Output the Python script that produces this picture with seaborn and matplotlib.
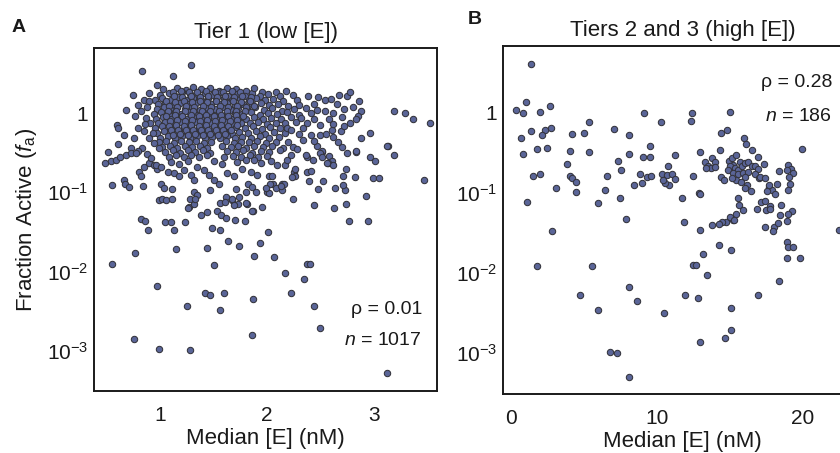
import numpy as np
import pandas as pd
import matplotlib
matplotlib.use("Agg")
import matplotlib.pyplot as plt
import matplotlib.ticker as mticker
import seaborn as sns

sns.set_style("white")
plt.rcParams['font.family'] = ['Liberation Sans', 'DejaVu Sans']
plt.rcParams['mathtext.fontset'] = 'custom'
plt.rcParams['mathtext.rm'] = 'Liberation Sans'
plt.rcParams['mathtext.it'] = 'Liberation Sans:italic'
plt.rcParams['text.color'] = '#1a1a1a'
plt.rcParams['axes.labelcolor'] = '#1a1a1a'

# values: (median [E] in nM, log10 of fraction active)
tier1_core = [
    (1.03, 0.30), (1.16, 0.32), (1.24, 0.29), (1.31, 0.33), (1.38, 0.30), (1.47, 0.31), (1.55, 0.28),
    (1.63, 0.32), (1.71, 0.30), (1.80, 0.28), (1.95, 0.27), (2.08, 0.26), (2.18, 0.28),
    (0.90, 0.25), (1.00, 0.23), (1.08, 0.25), (1.14, 0.22), (1.21, 0.26), (1.28, 0.24), (1.35, 0.21),
    (1.42, 0.25), (1.49, 0.23), (1.57, 0.26), (1.64, 0.22), (1.72, 0.24), (1.79, 0.21), (1.86, 0.25),
    (1.93, 0.22), (2.01, 0.24), (2.12, 0.21), (2.24, 0.23),
    (0.95, 0.17), (1.02, 0.19), (1.10, 0.16), (1.17, 0.20), (1.24, 0.17), (1.31, 0.19), (1.38, 0.16),
    (1.45, 0.19), (1.52, 0.17), (1.60, 0.19), (1.67, 0.16), (1.75, 0.18), (1.83, 0.17), (1.90, 0.19),
    (1.98, 0.16), (2.06, 0.18), (2.15, 0.15), (2.28, 0.17),
    (0.98, 0.11), (1.05, 0.13), (1.12, 0.10), (1.19, 0.13), (1.27, 0.11), (1.34, 0.13), (1.41, 0.10),
    (1.48, 0.12), (1.56, 0.11), (1.63, 0.13), (1.70, 0.10), (1.78, 0.12), (1.86, 0.11), (1.94, 0.13),
    (2.02, 0.10), (2.10, 0.12), (2.20, 0.09),
    (0.97, 0.05), (1.04, 0.07), (1.10, 0.04), (1.16, 0.07), (1.23, 0.05), (1.30, 0.07), (1.37, 0.04),
    (1.44, 0.06), (1.51, 0.05), (1.58, 0.07), (1.66, 0.04), (1.73, 0.06), (1.81, 0.05), (1.89, 0.07),
    (1.97, 0.04), (2.05, 0.06), (2.14, 0.03), (2.25, 0.05),
    (0.94, -0.01), (1.01, 0.01), (1.08, -0.02), (1.14, 0.01), (1.20, -0.01), (1.27, 0.01), (1.34, -0.02),
    (1.41, 0.00), (1.48, -0.01), (1.55, 0.01), (1.62, -0.02), (1.70, 0.00), (1.77, -0.01), (1.85, 0.01),
    (1.93, -0.02), (2.01, 0.00), (2.09, -0.01), (2.19, 0.01), (2.30, -0.02),
    (0.96, -0.07), (1.03, -0.05), (1.10, -0.08), (1.17, -0.05), (1.24, -0.07), (1.31, -0.05), (1.38, -0.08),
    (1.45, -0.06), (1.52, -0.07), (1.59, -0.05), (1.66, -0.08), (1.73, -0.06), (1.80, -0.07), (1.88, -0.05),
    (1.96, -0.08), (2.04, -0.06), (2.13, -0.07), (2.22, -0.05),
    (0.98, -0.13), (1.05, -0.11), (1.12, -0.14), (1.19, -0.11), (1.26, -0.13), (1.33, -0.11), (1.40, -0.14),
    (1.47, -0.12), (1.54, -0.13), (1.61, -0.11), (1.68, -0.14), (1.76, -0.12), (1.84, -0.13), (1.92, -0.11),
    (2.00, -0.14), (2.08, -0.12), (2.17, -0.13), (2.27, -0.11),
    (0.95, -0.19), (1.02, -0.17), (1.09, -0.20), (1.15, -0.17), (1.22, -0.19), (1.29, -0.17), (1.36, -0.20),
    (1.43, -0.18), (1.50, -0.19), (1.57, -0.17), (1.64, -0.20), (1.71, -0.18), (1.79, -0.19), (1.87, -0.17),
    (1.95, -0.20), (2.03, -0.18), (2.12, -0.19),
    (0.97, -0.25), (1.04, -0.23), (1.11, -0.26), (1.18, -0.23), (1.25, -0.25), (1.32, -0.23), (1.39, -0.26),
    (1.46, -0.24), (1.53, -0.25), (1.60, -0.23), (1.67, -0.26), (1.74, -0.24), (1.82, -0.25), (1.90, -0.23),
    (1.98, -0.26), (2.07, -0.24), (2.17, -0.25),
    (1.00, -0.31), (1.07, -0.29), (1.14, -0.32), (1.21, -0.29), (1.28, -0.31), (1.35, -0.29), (1.42, -0.32),
    (1.49, -0.30), (1.56, -0.31), (1.63, -0.29), (1.70, -0.32), (1.77, -0.30), (1.85, -0.31), (1.93, -0.29),
    (2.02, -0.32), (2.11, -0.30),
    (0.99, -0.37), (1.06, -0.35), (1.13, -0.38), (1.20, -0.35), (1.27, -0.37), (1.34, -0.35), (1.41, -0.38),
    (1.48, -0.36), (1.62, -0.35), (1.69, -0.38), (1.76, -0.36), (1.83, -0.37), (1.91, -0.35), (1.99, -0.38),
    (2.08, -0.36), (2.20, -0.37),
    (1.02, -0.43), (1.09, -0.41), (1.16, -0.44), (1.23, -0.41), (1.30, -0.43), (1.37, -0.41), (1.44, -0.44),
    (1.58, -0.42), (1.66, -0.43), (1.73, -0.41), (1.80, -0.44), (1.88, -0.42), (1.96, -0.43), (2.05, -0.41),
    (2.15, -0.44),
    (1.05, -0.49), (1.12, -0.47), (1.19, -0.50), (1.26, -0.47), (1.33, -0.49), (1.40, -0.47), (1.47, -0.50),
    (1.63, -0.48), (1.71, -0.49), (1.78, -0.47), (1.86, -0.50), (1.94, -0.48), (2.02, -0.49), (2.12, -0.47),
    (1.08, -0.55), (1.15, -0.53), (1.22, -0.56), (1.29, -0.53), (1.36, -0.55), (1.44, -0.53), (1.60, -0.56),
    (1.68, -0.54), (1.76, -0.55), (1.84, -0.53), (1.92, -0.56), (2.00, -0.54),
    (1.12, 0.27), (1.20, 0.28), (1.27, 0.26), (1.35, 0.27), (1.43, 0.28), (1.51, 0.26), (1.59, 0.27),
    (1.67, 0.28), (1.75, 0.26),
    (1.13, 0.21), (1.21, 0.20), (1.29, 0.22), (1.37, 0.20), (1.45, 0.22), (1.53, 0.20), (1.61, 0.21),
    (1.69, 0.20), (1.77, 0.22), (1.85, 0.20),
    (1.06, 0.15), (1.14, 0.14), (1.22, 0.15), (1.30, 0.14), (1.37, 0.15), (1.44, 0.14), (1.52, 0.15),
    (1.60, 0.14), (1.68, 0.15), (1.76, 0.14), (1.84, 0.15),
    (1.08, 0.09), (1.16, 0.08), (1.24, 0.09), (1.32, 0.08), (1.40, 0.09), (1.48, 0.08), (1.56, 0.09),
    (1.64, 0.08), (1.72, 0.09), (1.80, 0.08), (1.88, 0.09),
    (1.07, 0.02), (1.15, 0.03), (1.23, 0.02), (1.31, 0.03), (1.39, 0.02), (1.47, 0.03), (1.55, 0.02),
    (1.63, 0.03), (1.71, 0.02), (1.79, 0.03),
    (1.06, -0.04), (1.14, -0.03), (1.21, -0.04), (1.29, -0.03), (1.36, -0.04), (1.43, -0.03), (1.50, -0.04),
    (1.57, -0.03), (1.64, -0.04), (1.71, -0.03), (1.78, -0.04),
    (1.09, -0.10), (1.16, -0.09), (1.23, -0.10), (1.30, -0.09), (1.37, -0.10), (1.44, -0.09), (1.51, -0.10),
    (1.58, -0.09), (1.65, -0.10), (1.72, -0.09),
    (1.08, -0.16), (1.15, -0.15), (1.22, -0.16), (1.29, -0.15), (1.36, -0.16), (1.43, -0.15), (1.50, -0.16),
    (1.57, -0.15), (1.64, -0.16), (1.72, -0.15),
    (1.10, -0.22), (1.17, -0.21), (1.24, -0.22), (1.31, -0.21), (1.38, -0.22), (1.45, -0.21), (1.52, -0.22),
    (1.59, -0.21), (1.66, -0.22),
    (1.12, -0.28), (1.19, -0.27), (1.26, -0.28), (1.33, -0.27), (1.40, -0.28), (1.47, -0.27), (1.54, -0.28),
    (1.61, -0.27),
]

tier1_spread = [
    (0.60, -0.15), (0.61, -0.19), (0.51, -0.49), (0.66, -0.28), (0.61, -0.39), (0.77, -0.04), (0.79, 0.10),
    (0.85, 0.17), (0.90, 0.15), (0.82, 0.02), (0.87, -0.06), (0.91, -0.13), (0.79, -0.19), (0.85, -0.23),
    (0.90, -0.32), (0.94, -0.38), (0.99, -0.44), (0.83, -0.44), (0.79, -0.48), (0.73, -0.44), (0.76, -0.32),
    (0.49, -0.63), (0.54, -0.61), (0.59, -0.59), (0.63, -0.55), (0.68, -0.53), (0.73, -0.51), (0.78, -0.50),
    (0.80, -0.74), (0.85, -0.68), (0.90, -0.63), (0.94, -0.66), (0.97, -0.70), (0.82, -0.80),
    (0.88, 0.08), (0.86, -0.14), (0.93, -0.25), (0.88, -0.52), (0.92, -0.57),
    (0.96, -0.66), (1.01, -0.68), (1.07, -0.74), (1.13, -0.76), (1.18, -0.80), (1.22, -0.72), (1.29, -0.78),
    (1.32, -0.84), (1.35, -0.68), (1.41, -0.72), (1.46, -0.78), (1.50, -0.84), (1.55, -0.89), (1.63, -0.76),
    (1.69, -0.80), (1.77, -0.70), (1.85, -0.74), (1.91, -0.78), (1.94, -0.63), (1.88, -0.59), (1.80, -0.59),
    (1.10, -0.62), (1.18, -0.64), (1.26, -0.60), (1.50, -0.60), (1.58, -0.64), (1.72, -0.62), (2.04, -0.60),
    (2.37, -0.56), (2.51, -0.49), (2.58, -0.54), (2.61, -0.61), (2.57, -0.63), (2.62, -0.66), (2.83, -0.49),
    (2.74, -0.70), (2.71, -0.79), (2.82, -0.81), (2.48, -0.96), (2.39, -0.86), (2.52, -0.86), (2.37, -0.74),
    (2.41, -0.73), (2.25, -0.74), (2.26, -0.79), (2.23, -0.81), (2.26, -0.71), (2.14, -0.89), (2.16, -0.89),
    (2.14, -0.97), (2.06, -0.89), (2.03, -0.90), (2.00, -0.99), (2.02, -0.79), (2.05, -0.80), (2.09, -0.66),
    (2.17, -0.66), (2.19, -0.59), (2.22, -0.53),
    (2.69, -0.23), (2.61, -0.21), (2.50, -0.28), (2.55, -0.27), (2.41, -0.28), (2.88, -0.31), (3.13, -0.42),
    (2.47, -0.42), (2.51, -0.48), (2.70, -0.43), (2.83, -0.48), (2.96, -0.55), (2.24, -0.43), (2.36, -0.53),
    (2.19, -0.19), (2.22, -0.21), (2.34, -0.19), (2.37, -0.13), (2.41, 0.00), (2.47, 0.04), (2.67, 0.23),
    (2.75, 0.21), (2.86, 0.15), (2.88, 0.03), (2.85, -0.04), (2.83, -0.08),
    (2.38, 0.21), (2.48, 0.20), (2.54, 0.17), (2.80, 0.07), (2.78, -0.12), (2.70, -0.05), (2.62, 0.00),
    (2.54, 0.02), (2.50, -0.15), (2.62, -0.30), (2.75, -0.51), (2.50, -0.51), (2.51, -0.55), (2.43, -0.59),
    (2.56, -0.63), (2.34, -0.34), (2.30, 0.10), (2.36, 0.06), (2.32, -0.06), (2.44, -0.08), (2.58, -0.07),
    (2.65, 0.12), (2.72, 0.05), (2.60, 0.18), (2.44, 0.12), (2.78, 0.26), (2.62, -0.14), (2.72, -0.17),
    (2.30, -0.27), (2.28, -0.45), (2.44, -0.35), (2.66, -0.36),
]

tier1_sparse = [
    (1.29, 0.60), (0.83, 0.53), (1.12, 0.47), (0.97, 0.35), (1.88, 0.31), (0.75, 0.23), (0.68, 0.04),
    (3.19, 0.03), (3.29, 0.00), (3.36, -0.07), (3.52, -0.12), (2.96, -0.25), (3.12, -0.42), (3.19, -0.53),
    (3.47, -0.84), (3.01, -0.60), (2.93, -1.05), (2.94, -1.36), (2.77, -1.36), (2.99, -0.82), (3.05, -0.82),
    (2.74, -1.15), (2.73, -0.97), (2.63, -1.20), (2.44, -1.16), (2.24, -1.09),
    (0.55, -1.90), (0.77, -1.77), (0.82, -1.34), (0.86, -1.36), (0.89, -1.47), (0.97, -2.18), (0.76, -2.85),
    (0.99, -2.98), (1.28, -2.99), (1.25, -2.43), (1.42, -2.27), (1.47, -2.30), (1.60, -2.27), (1.56, -2.48),
    (1.87, -2.34), (1.86, -2.80), (2.44, -2.44), (2.50, -2.71), (2.22, -2.27), (2.17, -2.02), (2.35, -2.09),
    (2.37, -1.90), (2.40, -1.90), (2.07, -1.81), (1.88, -1.80), (1.50, -1.92), (1.44, -1.70), (1.15, -1.71),
    (1.64, -1.61), (1.74, -1.68), (1.93, -1.64), (2.01, -1.50), (3.12, -3.28),
    (0.99, -1.10), (1.02, -1.09), (1.06, -1.10), (1.11, -1.09), (1.05, -1.37), (1.10, -1.38), (1.13, -1.48),
    (1.23, -1.37), (1.27, -1.19), (1.32, -1.15), (1.49, -1.45), (1.56, -1.47),
    (1.38, -1.29), (1.44, -1.25), (1.53, -1.23), (1.57, -1.29), (1.62, -1.33), (1.70, -1.35), (1.79, -1.36),
    (1.81, -1.15), (1.87, -1.24), (1.95, -1.18), (2.02, -1.01), (2.08, -0.94), (2.13, -0.92), (1.99, -0.95),
    (2.64, -0.95), (2.71, -0.91), (1.62, -1.06), (1.67, -1.10), (1.73, -1.15), (1.56, -1.13),
    (1.32, -0.99), (1.35, -1.03), (1.28, -1.09), (1.33, -1.09), (1.26, -1.20), (1.69, -1.16), (1.80, -1.14),
    (1.86, -1.24), (1.61, -1.12), (1.82, -0.89), (1.86, -0.93), (1.90, -0.99), (1.80, -0.99), (1.71, -0.96),
    (1.67, -1.08), (1.74, -1.06), (1.47, -0.97), (1.01, -0.90), (1.04, -0.94), (1.11, -0.96),
    (0.55, -0.91), (0.66, -0.85), (0.67, -0.89), (0.71, -0.93), (0.84, -0.92),
]

tier23_points = [
    (1.42, 0.61), (1.05, 0.13), (0.36, 0.03), (0.86, 0.00), (2.03, 0.01), (2.71, 0.09), (9.15, 0.00),
    (10.3, -0.11), (5.38, -0.11), (1.41, -0.23), (2.33, -0.22), (2.16, -0.28), (2.76, -0.19), (0.73, -0.31),
    (4.22, -0.27), (5.02, -0.25), (7.05, -0.20), (8.08, -0.28), (1.78, -0.45), (2.51, -0.44), (0.86, -0.52),
    (4.06, -0.48), (5.38, -0.49), (9.52, -0.42), (8.08, -0.52), (9.06, -0.55), (9.52, -0.55), (7.37, -0.60),
    (3.88, -0.64), (7.53, -0.72), (1.55, -0.79), (2.03, -0.77), (4.06, -0.79), (4.20, -0.82), (4.47, -0.87),
    (6.57, -0.79), (8.84, -0.77), (9.34, -0.80), (9.59, -0.79), (8.42, -0.90), (9.01, -0.88), (3.12, -0.94),
    (4.49, -0.99), (6.44, -0.97), (1.10, -1.11), (6.00, -1.13), (7.47, -1.07),
    (10.39, -0.76), (10.68, -0.78), (11.07, -0.76), (11.23, -0.83), (10.82, -0.90), (10.53, -0.88),
    (11.23, -0.53), (10.78, -0.66), (10.4, -0.84),
    (12.44, 0.00), (12.31, -0.10), (12.47, -0.79), (12.92, -1.00), (12.97, -1.02), (11.76, -1.07),
    (11.87, -1.37), (12.95, -0.49),
    (15.0, 0.01), (14.38, -0.25), (14.84, -0.21), (15.98, -0.32), (16.14, -0.39), (19.95, -0.45),
    (16.5, -0.47), (16.9, -0.55), (14.3, -0.46),
    (13.8, -0.57), (13.3, -0.62), (13.5, -0.66), (13.97, -0.62), (13.7, -0.69), (13.4, -0.69), (13.97, -0.68),
    (14.95, -0.60), (15.16, -0.57), (15.45, -0.53), (15.68, -0.61), (15.25, -0.65), (15.0, -0.67),
    (15.34, -0.69), (15.57, -0.71), (15.84, -0.66), (16.07, -0.63), (16.25, -0.61), (16.53, -0.67),
    (16.75, -0.66), (16.94, -0.70), (14.88, -0.72), (15.23, -0.75), (15.57, -0.77), (15.91, -0.75),
    (16.25, -0.74), (16.07, -0.80), (15.45, -0.84), (15.75, -0.86), (15.16, -0.82), (16.2, -0.90),
    (16.48, -0.98), (16.75, -0.77), (16.99, -0.81), (15.57, -1.07), (15.62, -1.15), (16.07, -0.94),
    (14.4, -0.80), (14.6, -0.84),
    (17.71, -0.93), (17.9, -0.97), (18.08, -1.01), (17.53, -0.98), (17.67, -0.90), (18.26, -0.89),
    (19.0, -0.65), (19.18, -0.70), (18.9, -0.72), (19.3, -0.75), (19.08, -0.80), (19.1, -0.89), (19.0, -0.96),
    (18.4, -0.73), (17.16, -1.11), (17.44, -1.10), (18.49, -1.15), (17.74, -1.17),
    (17.37, -0.64), (17.08, -0.80), (17.42, -0.82),
    (17.5, -1.21), (17.72, -1.20), (16.85, -1.20), (15.43, -1.26), (15.2, -1.34), (14.75, -1.36), (15.0, -1.30),
    (14.45, -1.36), (14.25, -1.39), (13.77, -1.40), (12.97, -1.47), (15.9, -1.22), (15.32, -1.34),
    (19.27, -1.23), (18.9, -1.35), (18.45, -1.28), (18.04, -1.43), (18.33, -1.38), (18.97, -1.26),
    (17.44, -1.43), (17.99, -1.48),
    (18.9, -1.61), (19.0, -1.68), (19.3, -1.68), (18.9, -1.81), (19.8, -1.81), (18.4, -2.10), (14.25, -1.65),
    (15.1, -1.71), (13.15, -1.77), (12.5, -1.90), (12.7, -1.90), (13.42, -2.03), (12.8, -2.31), (11.9, -2.28),
    (16.9, -2.28), (15.1, -2.44), (15.1, -2.72), (14.7, -2.81), (12.97, -2.86), (10.5, -2.50), (8.13, -2.18),
    (8.65, -2.35), (6.8, -2.99), (7.26, -3.00), (8.08, -3.30), (5.96, -2.46), (4.75, -2.28), (5.59, -1.91),
    (1.78, -1.91), (2.83, -1.48), (7.88, -1.33), (22.5, -1.47),
]

tier1_stats = ("ρ = 0.01", "$n$ = 1017")
tier23_stats = ("ρ = 0.28", "$n$ = 186")


def to_frame(points):
    arr = np.array(points)
    return pd.DataFrame({'E': arr[:, 0], 'fa': 10 ** arr[:, 1]})


df1 = to_frame(tier1_core + tier1_spread + tier1_sparse)
df2 = to_frame(tier23_points)

fig = plt.figure(figsize=(8.4, 4.53), dpi=100)
ax1 = fig.add_axes([94 / 840, 62 / 453, 343 / 840, 343 / 453])
ax2 = fig.add_axes([502.7 / 840, 59 / 453, 360 / 840, 348 / 453])

dot = dict(s=21, color='#5a6598', edgecolor='#33333b', linewidth=0.75, alpha=1, legend=False)
sns.scatterplot(data=df1, x='E', y='fa', ax=ax1, **dot)
sns.scatterplot(data=df2, x='E', y='fa', ax=ax2, **dot)

for ax in (ax1, ax2):
    ax.set_yscale('log')
    ax.yaxis.set_major_locator(mticker.FixedLocator([1e-3, 1e-2, 1e-1, 1]))
    ax.yaxis.set_major_formatter(mticker.FixedFormatter(['$10^{-3}$', '$10^{-2}$', '$10^{-1}$', '1']))
    ax.yaxis.set_minor_locator(mticker.NullLocator())
    ax.tick_params(direction='in', length=3.5, width=1.1, labelsize=15, colors='#1a1a1a')
    ax.tick_params(axis='x', pad=11)
    ax.tick_params(axis='y', pad=4)
    for sp in ax.spines.values():
        sp.set_linewidth(1.4)
        sp.set_color('#1a1a1a')
    ax.set_xlabel('Median [E] (nM)', fontsize=16, labelpad=2)

ax1.set_xlim(0.383, 3.589)
ax1.set_ylim(10 ** -3.506, 10 ** 0.82)
ax1.set_xticks([1, 2, 3])
ax1.set_ylabel('Fraction Active ($f_{\\mathrm{a}}$)', fontsize=16, labelpad=6)
ax1.set_title('Tier 1 (low [E])', fontsize=16, pad=7)

ax2.set_xlim(-0.55, 24.1)
ax2.set_ylim(10 ** -3.516, 10 ** 0.834)
ax2.set_xticks([0, 10, 20])
ax2.set_ylabel('')
ax2.set_title('Tiers 2 and 3 (high [E])', fontsize=16, pad=7)

ax1.text(0.956, 0.239, tier1_stats[0], transform=ax1.transAxes, ha='right', va='center', fontsize=14)
ax1.text(0.956, 0.146, tier1_stats[1], transform=ax1.transAxes, ha='right', va='center', fontsize=14)
ax2.text(0.915, 0.895, tier23_stats[0], transform=ax2.transAxes, ha='right', va='center', fontsize=14)
ax2.text(0.915, 0.796, tier23_stats[1], transform=ax2.transAxes, ha='right', va='center', fontsize=14)

fig.text(12 / 840, 1 - 27 / 453, 'A', fontsize=14, fontweight='bold', va='center')
fig.text(468 / 840, 1 - 19 / 453, 'B', fontsize=14, fontweight='bold', va='center')

fig.savefig('out.png', dpi=100)
